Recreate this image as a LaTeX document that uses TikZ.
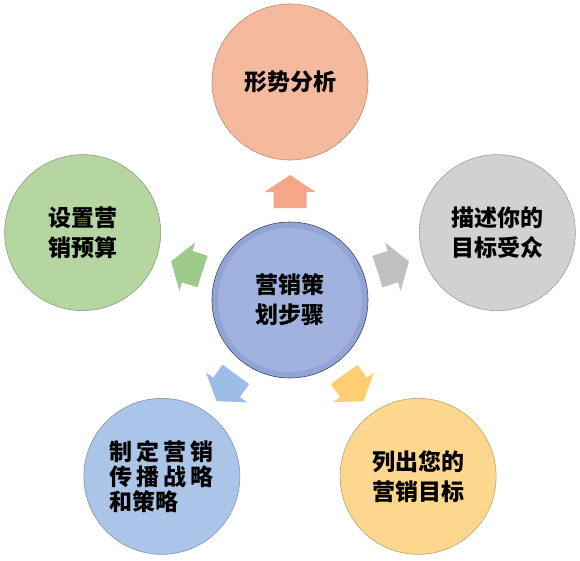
\documentclass[tikz,border=0pt]{standalone}
\usepackage{fontspec}
\newfontfamily\cjk{Noto Sans CJK SC}
\definecolor{cplan}{RGB}{162,178,222}
\definecolor{cplanrim}{RGB}{146,163,214}
\definecolor{csitu}{RGB}{245,185,157}
\definecolor{caud}{RGB}{209,209,209}
\definecolor{cgoal}{RGB}{254,215,142}
\definecolor{cstrat}{RGB}{170,197,231}
\definecolor{cbudget}{RGB}{181,213,161}
\definecolor{asitu}{RGB}{243,166,136}
\definecolor{aaud}{RGB}{192,192,192}
\definecolor{agoal}{RGB}{255,206,112}
\definecolor{astrat}{RGB}{156,188,230}
\definecolor{abudget}{RGB}{157,201,138}

\begin{document}
\begin{tikzpicture}[x=1pt,y=1pt,line join=round,
  ball/.style={circle,minimum size=156pt,inner sep=0pt,draw=#1!75!black,fill=#1,
    line width=0.6pt,align=center,font=\cjk\bfseries\fontsize{23}{30}\selectfont}]
\useasboundingbox (-290,-260) rectangle (290,300);
% centre
\node[ball=cplanrim,draw=cplan!40!black,
  path picture={\fill[cplan] (path picture bounding box.center) circle (72);}] (plan) at (0,0) {营销策\\划步骤};
% steps
\node[ball=csitu] (situ) at (90:218) {形势分析};
\node[ball=caud] (aud) at (18:218) {描述你的\\目标受众};
\node[ball=cgoal] (goal) at (-54:218) {列出您的\\营销目标};
\node[ball=cstrat,align=left,font=\cjk\bfseries\fontsize{23}{25}\selectfont] (strat) at (-126:218)
  {\makebox[104pt][s]{制\hfill 定\hfill 营\hfill 销}\\\makebox[104pt][s]{传\hfill 播\hfill 战\hfill 略}\\和策略};
\node[ball=cbudget] (budget) at (162:218) {设置营\\销预算};
% block arrows
\foreach \ang/\col in {90/asitu,18/aaud,-54/agoal,-126/astrat,162/abudget}
  \fill[\col,shift={(plan.center)},rotate=\ang] (92,-16.5) -- (108,-16.5) -- (108,-25.5) -- (125,0)
    -- (108,25.5) -- (108,16.5) -- (92,16.5) -- cycle;
\end{tikzpicture}
\end{document}
